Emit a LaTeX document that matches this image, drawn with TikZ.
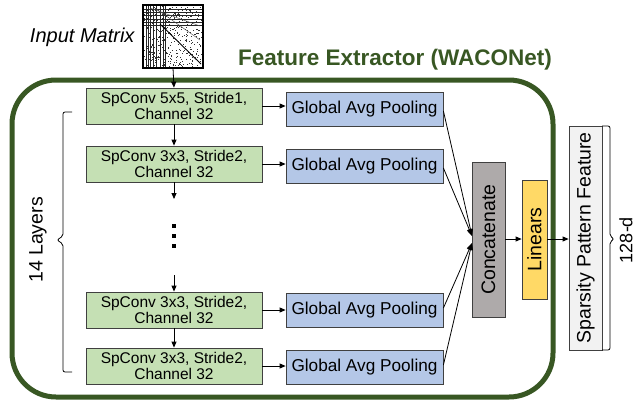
\documentclass[tikz,border=0pt]{standalone}
\usepackage{fontspec}
\setmainfont{Liberation Sans}
\usetikzlibrary{arrows.meta}
\definecolor{frameGreen}{RGB}{56,87,35}
\definecolor{convFill}{RGB}{197,224,180}
\definecolor{poolFill}{RGB}{180,199,231}
\definecolor{catFill}{RGB}{174,170,170}
\definecolor{linFill}{RGB}{255,217,102}
\definecolor{featFill}{RGB}{242,242,242}
\definecolor{edgeGray}{RGB}{64,64,64}
\tikzset{
  box/.style={draw=edgeGray, line width=0.8pt, inner sep=0pt, align=center},
  convbox/.style={box, fill=convFill, minimum width=176pt, minimum height=36pt,
    font=\fontsize{15.5}{16}\selectfont},
  poolbox/.style={box, fill=poolFill, minimum width=157pt, minimum height=34pt,
    font=\fontsize{17.2}{18}\selectfont},
  vbox/.style={box, rotate=90, font=\fontsize{19.5}{20}\selectfont},
  arr/.style={-{Triangle[length=6pt,width=5pt]}, line width=0.8pt},
  feed/.style={-{Triangle[length=7pt,width=5pt]}, line width=0.8pt},
  bracket/.style={line width=0.8pt, rounded corners=2pt},
}
\begin{document}
\begin{tikzpicture}[x=1pt,y=-1pt]
\useasboundingbox (0,0) rectangle (643,402);

% sparse input matrix
\begin{scope}
  \fill[white] (143,5) rectangle (203,68);
  \pgfmathsetseed{7}
  \foreach \i in {1,...,420}{
    \pgfmathsetmacro{\px}{144+58*rnd}
    \pgfmathsetmacro{\py}{6+61*rnd}
    \fill[black!80] (\px,\py) rectangle ++(0.9,0.9);
  }
  \foreach \xx in {146,148,150,153,156,160,163,165}
    \draw[black!85, line width=0.6pt] (\xx,5) -- (\xx,68);
  \foreach \yy in {9,12,15,19,22,25}
    \draw[black!85, line width=0.6pt] (143,\yy) -- (203,\yy);
  \draw[black, line width=0.9pt] (160,24) -- (201,64);
  \draw[black!70, line width=0.4pt] (150,8) -- (200,26);
  \draw[black!70, line width=0.4pt] (155,8) -- (200,40);
  \draw[black, line width=1.2pt] (143,5) rectangle (203,68);
\end{scope}
\coordinate (matrix) at (173,68);
\node[font=\fontsize{20}{20}\selectfont\itshape, anchor=east] (inlabel) at (138,37) {Input Matrix};

% feature extractor frame and title
\draw[frameGreen, line width=5pt, rounded corners=44pt] (12,80) rectangle (553,397);
\node[font=\fontsize{22.5}{23}\selectfont\bfseries, text=frameGreen] (title) at (395,60) {Feature Extractor (WACONet)};

% convolution layers
\node[convbox] (c1) at (174,106) {SpConv 5x5, Stride1,\\Channel 32};
\node[convbox] (c2) at (174,164) {SpConv 3x3, Stride2,\\Channel 32};
\node[convbox] (c3) at (174,310) {SpConv 3x3, Stride2,\\Channel 32};
\node[convbox] (c4) at (174,366) {SpConv 3x3, Stride2,\\Channel 32};

% pooling blocks
\node[poolbox] (p1) at (364.5,109) {Global Avg Pooling};
\node[poolbox] (p2) at (364.5,166) {Global Avg Pooling};
\node[poolbox] (p3) at (364.5,310) {Global Avg Pooling};
\node[poolbox] (p4) at (364.5,367) {Global Avg Pooling};

% elided layers
\coordinate (gapTop) at (174,199);
\coordinate (gapBot) at (174,275);
\node[inner sep=0pt] (dots) at (174,236) {};
\foreach \yy in {226,236,246}
  \fill (172,\yy-2) rectangle (176,\yy+2);

\draw[arr] (matrix) -- (c1.north);
\draw[arr] (c1.south) -- (c2.north);
\draw[arr] (c2.south) -- (gapTop);
\draw[arr] (gapBot) -- (c3.north);
\draw[arr] (c3.south) -- (c4.north);
\foreach \k in {1,2,3,4}
  \draw[arr] (c\k.east) -- (p\k.west |- c\k.east);

% concatenation, linear layers, output
\node[vbox, fill=catFill, minimum width=155pt, minimum height=33pt] (cat) at (488.5,239.5) {Concatenate};
\node[vbox, fill=linFill, minimum width=119pt, minimum height=25pt] (lin) at (534.5,239.5) {Linears};
\node[vbox, fill=featFill, minimum width=224pt, minimum height=33pt] (feat) at (585.5,238) {Sparsity Pattern Feature};

\coordinate (inTop) at (472,236);
\coordinate (inBot) at (472,243);
\draw[feed] ([yshift=-2pt]p1.east) -- (inTop);
\draw[feed] ([yshift=-2pt]p2.east) -- (inTop);
\draw[feed] ([yshift=2pt]p3.east) -- (inBot);
\draw[feed] ([yshift=2pt]p4.east) -- (inBot);
\draw[arr] (cat.south |- 0,239) -- (lin.north |- 0,239);
\draw[arr] (lin.south |- 0,239) -- (feat.north |- 0,239);

% layer count bracket
\draw[bracket] (72,112) -- (63,112) -- (63,236) -- (57,240) -- (63,244) -- (63,372) -- (72,372);
\node[rotate=90, font=\fontsize{19.5}{20}\selectfont] (layers) at (38,240) {14 Layers};

% feature size bracket
\draw[bracket] (602,126) -- (610,126) -- (610,236) -- (614,239) -- (610,242) -- (610,350) -- (602,350);
\node[rotate=90, font=\fontsize{18}{18}\selectfont] (dim) at (626,240) {128-d};
\end{tikzpicture}
\end{document}
